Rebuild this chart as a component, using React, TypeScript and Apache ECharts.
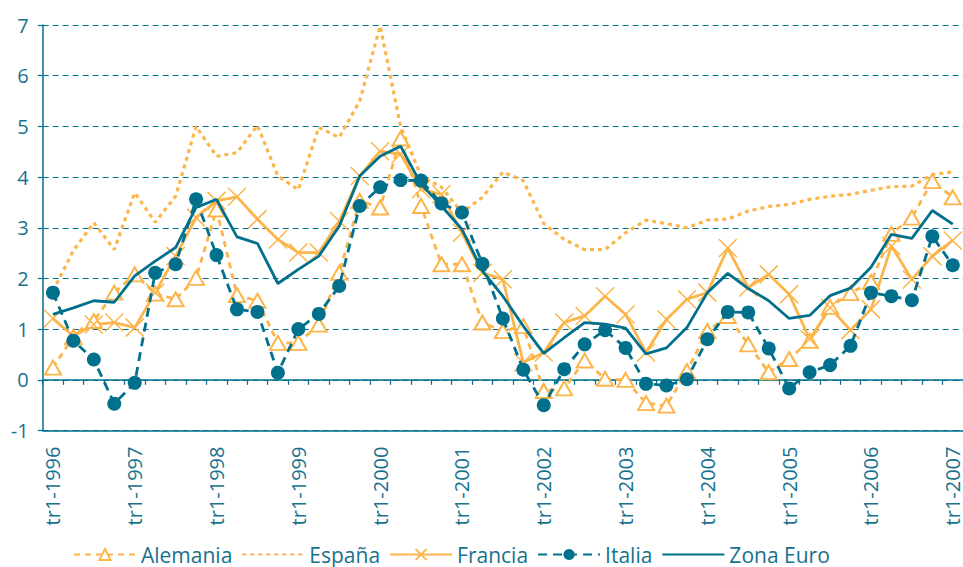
import React, { useEffect, useRef } from "react";
import * as echarts from "echarts";

const years = [1996, 1997, 1998, 1999, 2000, 2001, 2002, 2003, 2004, 2005, 2006, 2007];
const quarters = ["tr1", "tr2", "tr3", "tr4"];
const categories: string[] = [];
years.forEach((y) => {
  quarters.forEach((q) => {
    if (y === 2007 && q !== "tr1") return;
    categories.push(`${q}-${y}`);
  });
});

const alemania = [
  0.24, 0.85, 1.16, 1.72, 2.08, 1.7, 1.59, 2.01, 3.36, 1.67, 1.56, 0.73, 0.73, 1.09, 2.11,
  3.53, 3.4, 4.76, 3.43, 2.28, 2.28, 1.13, 0.96, 1.06, -0.22, -0.17, 0.38, 0.02, 0.0, -0.46,
  -0.51, 0.17, 0.96, 1.26, 0.7, 0.15, 0.41, 0.77, 1.44, 1.71, 1.93, 2.88, 3.2, 3.92, 3.6,
];
const espana = [
  1.75, 2.55, 3.1, 2.57, 3.69, 3.11, 3.62, 5.0, 4.41, 4.48, 5.02, 4.02, 3.75, 4.98, 4.78,
  5.5, 6.98, 5.0, 4.02, 3.8, 3.3, 3.6, 4.1, 3.93, 3.08, 2.77, 2.57, 2.57, 2.9, 3.15,
  3.08, 3.0, 3.15, 3.17, 3.33, 3.42, 3.46, 3.56, 3.62, 3.66, 3.74, 3.81, 3.82, 4.05, 4.1,
];
const francia = [
  1.21, 0.86, 1.09, 1.13, 1.03, 1.72, 2.44, 3.2, 3.53, 3.61, 3.17, 2.77, 2.51, 2.51, 3.13,
  4.02, 4.51, 4.45, 3.76, 3.66, 2.9, 2.11, 1.98, 0.34, 0.54, 1.13, 1.26, 1.65, 1.29, 0.54,
  1.19, 1.59, 1.72, 2.6, 1.82, 2.08, 1.69, 0.8, 1.42, 0.98, 1.39, 2.64, 1.98, 2.44, 2.75,
];
const italia = [
  1.72, 0.77, 0.4, -0.47, -0.06, 2.11, 2.28, 3.56, 2.46, 1.39, 1.34, 0.14, 1.0, 1.3, 1.85,
  3.43, 3.8, 3.94, 3.93, 3.48, 3.3, 2.29, 1.21, 0.2, -0.5, 0.21, 0.7, 0.98, 0.63, -0.08,
  -0.11, 0.01, 0.8, 1.34, 1.33, 0.62, -0.17, 0.15, 0.29, 0.67, 1.72, 1.65, 1.57, 2.83, 2.26,
];
const zonaEuro = [
  1.29, 1.42, 1.56, 1.53, 2.05, 2.34, 2.61, 3.4, 3.56, 2.82, 2.69, 1.9, 2.18, 2.44, 3.03,
  4.02, 4.41, 4.61, 3.86, 3.43, 2.97, 2.15, 1.65, 1.06, 0.52, 0.83, 1.13, 1.1, 1.02, 0.51,
  0.63, 1.03, 1.72, 2.1, 1.8, 1.56, 1.21, 1.27, 1.66, 1.81, 2.22, 2.87, 2.79, 3.34, 3.07,
];

const ORANGE = "#FCB54A";
const TEAL = "#00708C";
const TEXT = "#18718D";
const FONT = "Open Sans";

export default function App() {
  const ref = useRef<HTMLDivElement>(null);
  useEffect(() => {
    if (!ref.current) return;
    const chart = echarts.init(ref.current, undefined, { renderer: "svg" });
    chart.setOption({
      animation: false,
      backgroundColor: "#ffffff",
      textStyle: { fontFamily: FONT },
      grid: { left: 42.7, top: 25, right: -8.5, bottom: 136.5, containLabel: false },
      legend: {
        left: 68,
        top: 539,
        itemWidth: 62,
        itemHeight: 14,
        itemGap: 9,
        textStyle: { color: TEXT, fontSize: 21, fontFamily: FONT },
        data: [
          { name: "Alemania" },
          { name: "España", itemStyle: { opacity: 0 } },
          { name: "Francia" },
          { name: "Italia" },
          { name: "Zona Euro", itemStyle: { opacity: 0 } },
        ],
      },
      xAxis: [
        {
          type: "category",
          data: categories,
          position: "bottom",
          boundaryGap: true,
          axisLine: { onZero: false, lineStyle: { color: TEAL, width: 1.5 } },
          axisTick: { show: false },
          axisLabel: {
            interval: 3,
            rotate: 90,
            margin: 16,
            color: TEXT,
            fontSize: 20,
            fontFamily: FONT,
          },
          splitLine: { show: false },
        },
        {
          type: "category",
          data: categories,
          position: "bottom",
          boundaryGap: true,
          axisLine: { onZero: true, lineStyle: { color: TEAL, width: 1.5 } },
          axisTick: { show: true, interval: 0, length: 5, lineStyle: { color: TEAL, width: 1.2 } },
          axisLabel: { show: false },
          splitLine: { show: false },
        },
      ],
      yAxis: {
        type: "value",
        min: -1,
        max: 7,
        interval: 1,
        axisLine: { show: true, lineStyle: { color: TEAL, width: 1.5 } },
        axisTick: { show: true, length: 5, lineStyle: { color: TEAL, width: 1.2 } },
        axisLabel: { color: TEXT, fontSize: 20, margin: 14, fontFamily: FONT },
        splitLine: { show: true, lineStyle: { color: TEAL, width: 1, type: [6, 4] } },
      },
      series: [
        {
          name: "Alemania",
          type: "line",
          data: alemania,
          symbol: "emptyTriangle",
          symbolSize: [16, 14],
          showAllSymbol: true,
          itemStyle: { color: ORANGE, borderColor: ORANGE, borderWidth: 2.8 },
          lineStyle: { color: ORANGE, width: 2.8, type: [6, 5] },
          z: 3,
        },
        {
          name: "España",
          type: "line",
          data: espana,
          symbol: "none",
          itemStyle: { color: ORANGE },
          lineStyle: { color: ORANGE, width: 3.2, type: [4, 4] },
          z: 2,
        },
        {
          name: "Francia",
          type: "line",
          data: francia,
          symbol: "path://M0,0L10,10M10,0L0,10",
          symbolSize: 18,
          showAllSymbol: true,
          itemStyle: { color: ORANGE, borderColor: ORANGE, borderWidth: 1.5 },
          lineStyle: { color: ORANGE, width: 2.8, type: "solid" },
          z: 3,
        },
        {
          name: "Italia",
          type: "line",
          data: italia,
          symbol: "circle",
          symbolSize: 14,
          showAllSymbol: true,
          itemStyle: { color: TEAL },
          lineStyle: { color: TEAL, width: 2.8, type: [9, 6] },
          z: 4,
        },
        {
          name: "Zona Euro",
          type: "line",
          data: zonaEuro,
          symbol: "none",
          itemStyle: { color: TEAL },
          lineStyle: { color: TEAL, width: 2.8, type: "solid" },
          z: 4,
        },
      ],
    });
    return () => chart.dispose();
  }, []);
  return (
    <div
      ref={ref}
      style={{ position: "fixed", left: 0, top: 0, width: 963, height: 567 }}
    />
  );
}
